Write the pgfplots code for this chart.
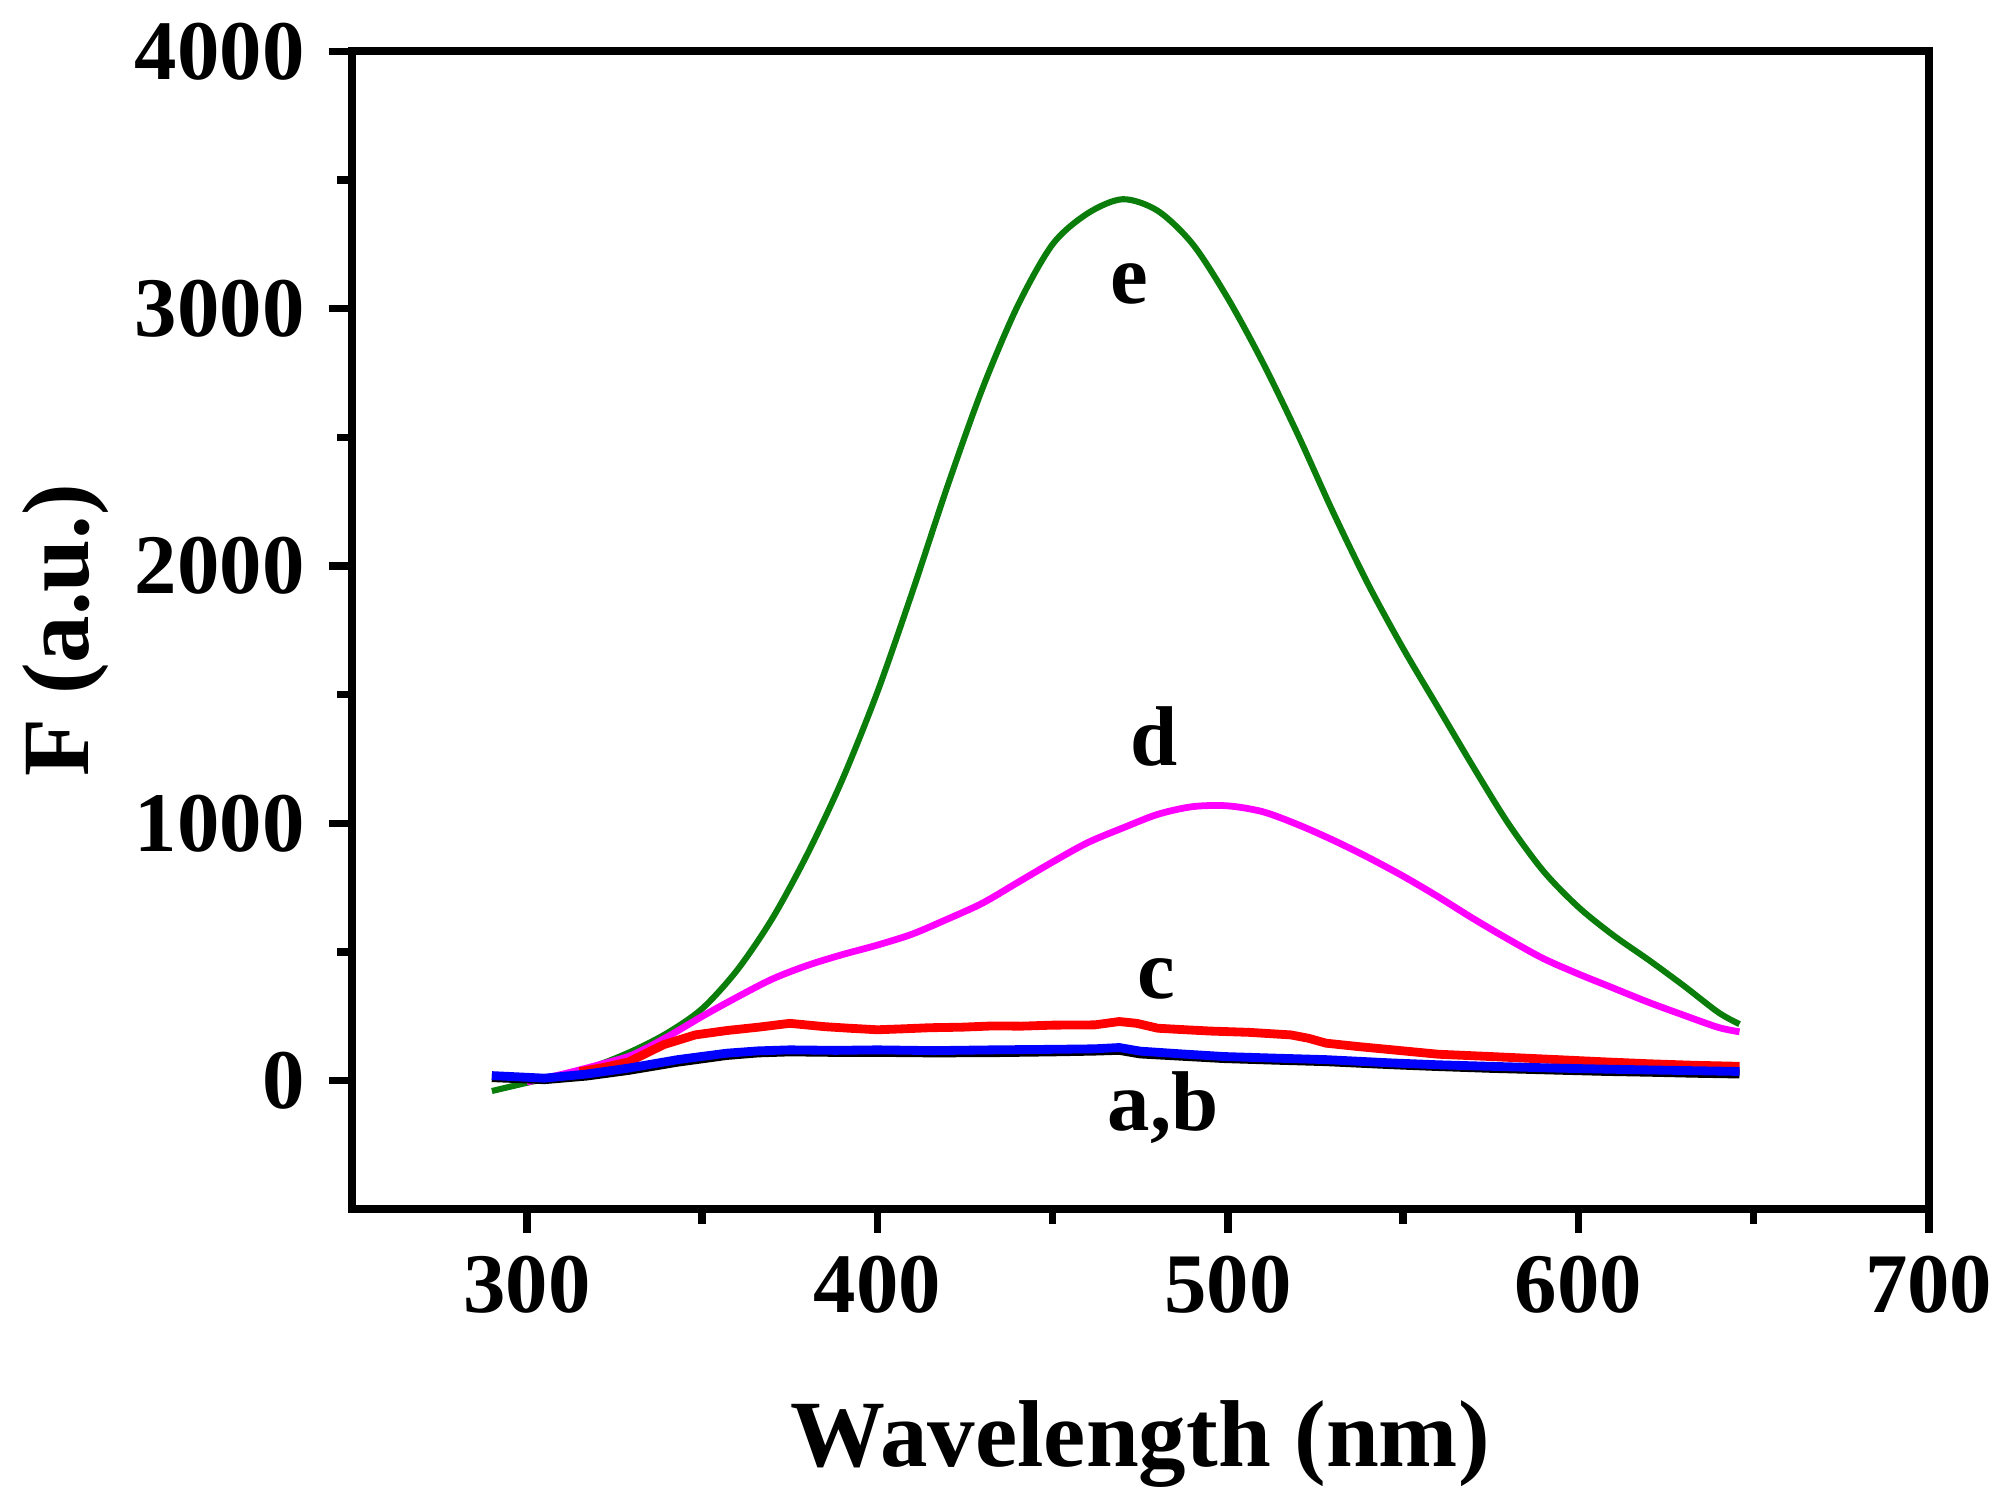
\documentclass[border=0pt]{standalone}
\usepackage{fontspec}
\setmainfont{Liberation Serif}
\usepackage{pgfplots}
\pgfplotsset{compat=1.18}
\definecolor{cgreen}{RGB}{10,125,10}
\definecolor{cmag}{RGB}{255,0,255}
\definecolor{cred}{RGB}{255,0,0}
\definecolor{cblue}{RGB}{0,0,255}
\begin{document}
\begin{tikzpicture}
\begin{axis}[
    scale only axis,
    width=8.17cm,
    height=6.0cm,
    xmin=250, xmax=700,
    ymin=-500, ymax=4000,
    xtick={300,400,...,700},
    ytick={0,1000,...,4000},
    minor x tick num=1,
    minor y tick num=1,
    xtick pos=left,
    ytick pos=left,
    tick align=outside,
    major tick length=0.12cm,
    minor tick length=0.075cm,
    every tick/.style={black, line width=1.1pt},
    axis line style={line width=1.2pt},
    /pgf/number format/assume math mode=true,
    /pgf/number format/1000 sep={},
    ticklabel style={font=\fontsize{12.5}{14}\selectfont\bfseries},
    xlabel={Wavelength (nm)},
    ylabel={F (a.u.)},
    label style={font=\fontsize{14}{16}\selectfont\bfseries},
    xlabel style={yshift=-6pt},
    ylabel style={yshift=-3pt},
    clip=false,
]
% e
\addplot[cgreen, line width=0.9pt, smooth] coordinates {
(290,-40) (300,-8) (310,22) (320,60) (330,115) (340,185) (350,280)
(360,430) (370,630) (380,880) (390,1170) (400,1510) (410,1900)
(420,2310) (430,2690) (440,3010) (450,3250) (460,3370) (470,3425)
(480,3380) (490,3250) (500,3040) (510,2790) (520,2510) (530,2210)
(540,1930) (550,1680) (560,1450) (570,1220) (580,1000) (590,815)
(600,675) (610,565) (620,470) (630,370) (640,265) (646,220)
};
% d
\addplot[cmag, line width=1pt, smooth] coordinates {
(300,-5) (310,25) (320,60) (330,100) (340,170) (350,250) (360,325)
(370,395) (380,448) (390,490) (400,527) (410,570) (420,628) (430,690)
(440,770) (450,850) (460,925) (470,982) (480,1035) (490,1065)
(500,1068) (510,1045) (520,995) (530,935) (540,868) (550,795)
(560,715) (570,630) (580,550) (590,475) (600,415) (610,360) (620,305)
(630,255) (640,207) (646,190)
};
% c
\addplot[cred, line width=1.3pt] coordinates {
(315,35) (322,52) (329,73) (339,140) (348,178) (357,195) (366,208)
(375,223) (385,210) (392,204) (400,198) (408,202) (415,206) (424,208)
(433,213) (441,212) (450,216) (462,217) (469,230) (474,223) (480,204)
(488,198) (495,193) (506,188) (518,178) (523,165) (528,146) (537,133)
(547,120) (560,103) (575,94) (594,82) (608,73) (620,66) (633,60) (646,56)
};
% a
\addplot[black, line width=1.3pt] coordinates {
(290,12) (305,4) (317,18) (329,40) (343,72) (357,98) (366,108)
(375,112) (388,110) (400,110) (416,108) (433,109) (450,112) (462,115)
(469,118) (475,104) (487,95) (499,86) (513,80) (528,74) (547,62)
(560,55) (575,48) (594,41) (608,36) (620,33) (633,29) (646,26)
};
% b
\addplot[cblue, line width=1.3pt] coordinates {
(290,20) (305,10) (317,26) (329,49) (343,82) (357,107) (366,116)
(375,120) (388,118) (400,120) (416,117) (433,120) (450,122) (462,124)
(469,129) (475,115) (487,104) (499,94) (513,88) (528,82) (547,69)
(560,62) (575,56) (594,49) (608,45) (620,42) (633,39) (646,36)
};
\node[font=\fontsize{12.5}{14}\selectfont\bfseries] at (axis cs:472,3096) {e};
\node[font=\fontsize{12.5}{14}\selectfont\bfseries] at (axis cs:479,1337) {d};
\node[font=\fontsize{12.5}{14}\selectfont\bfseries] at (axis cs:479.5,397) {c};
\node[font=\fontsize{12.5}{14}\selectfont\bfseries] at (axis cs:481.5,-106) {a,b};
\end{axis}
\end{tikzpicture}
\end{document}
